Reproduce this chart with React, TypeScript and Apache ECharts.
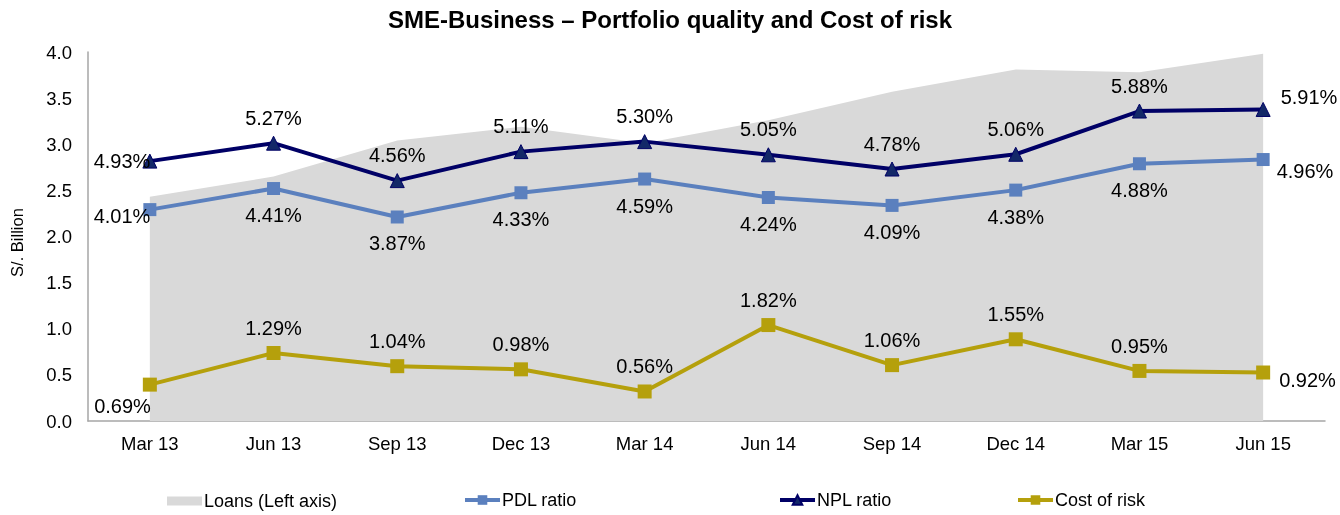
import React, { useEffect, useRef } from "react";
import * as echarts from "echarts";

const categories = ["Mar 13", "Jun 13", "Sep 13", "Dec 13", "Mar 14", "Jun 14", "Sep 14", "Dec 14", "Mar 15", "Jun 15"];
const loans = [2.43, 2.65, 3.04, 3.19, 3.01, 3.26, 3.57, 3.81, 3.78, 3.98];
const pdlRatio = [4.01, 4.41, 3.87, 4.33, 4.59, 4.24, 4.09, 4.38, 4.88, 4.96];
const nplRatio = [4.93, 5.27, 4.56, 5.11, 5.3, 5.05, 4.78, 5.06, 5.88, 5.91];
const costOfRisk = [0.69, 1.29, 1.04, 0.98, 0.56, 1.82, 1.06, 1.55, 0.95, 0.92];
const leftTicks = { min: 0, max: 4, interval: 0.5 };
const rightAxisMax = 7;

const FONT = "'Liberation Sans', Arial, Helvetica, sans-serif";

function withEdgeLabels(values: number[], first: any, last: any) {
  return values.map((v, i) => {
    if (i === 0) return { value: v, label: first };
    if (i === values.length - 1) return { value: v, label: last };
    return { value: v };
  });
}

export default function App() {
  const ref = useRef<HTMLDivElement>(null);
  useEffect(() => {
    if (!ref.current) return;
    const chart = echarts.init(ref.current, null, { renderer: "svg" });
    const pct = (p: any) => Number(p.value).toFixed(2) + "%";
    const labelBase = { show: true, formatter: pct, color: "#000", fontSize: 20, fontFamily: FONT };
    const legendBase = {
      top: 491,
      padding: 0,
      itemWidth: 35,
      itemHeight: 12,
      itemGap: 5,
      lineStyle: { width: 4 },
      textStyle: { fontSize: 18, color: "#000", fontFamily: FONT, padding: [0, 0, 0, -3] },
    };
    chart.setOption({
      animation: false,
      title: {
        text: "SME-Business – Portfolio quality and Cost of risk",
        left: "center",
        top: 2,
        textStyle: { fontSize: 24, fontWeight: "bold", color: "#000", fontFamily: FONT },
      },
      grid: { left: 87, right: 15, top: 52, bottom: 94, containLabel: false },
      legend: [
        { ...legendBase, left: 167, itemHeight: 9, top: 492, data: [{ name: "Loans (Left axis)", icon: "rect" }] },
        { ...legendBase, left: 463, data: ["PDL ratio"] },
        { ...legendBase, left: 778, data: ["NPL ratio"] },
        { ...legendBase, left: 1016, data: ["Cost of risk"] },
      ],
      xAxis: {
        type: "category",
        data: categories,
        boundaryGap: true,
        axisLine: { lineStyle: { color: "#A6A6A6", width: 1.5 } },
        axisTick: { show: false },
        axisLabel: { color: "#000", fontSize: 18.5, fontFamily: FONT, margin: 13 },
      },
      yAxis: [
        {
          type: "value",
          ...leftTicks,
          name: "S/. Billion",
          nameLocation: "middle",
          nameGap: 63,
          nameTextStyle: { fontSize: 16.5, color: "#000", fontFamily: FONT, padding: [0, 12, 0, 0] },
          axisLine: { show: true, lineStyle: { color: "#A6A6A6", width: 1.5 } },
          axisTick: { show: false },
          splitLine: { show: false },
          axisLabel: {
            color: "#000",
            fontSize: 18.5,
            fontFamily: FONT,
            margin: 16,
            formatter: (v: number) => v.toFixed(1),
          },
        },
        {
          type: "value",
          min: 0,
          max: rightAxisMax,
          show: false,
          splitLine: { show: false },
        },
      ],
      series: [
        {
          name: "Loans (Left axis)",
          type: "line",
          yAxisIndex: 0,
          data: loans,
          symbol: "none",
          lineStyle: { width: 0, color: "#D9D9D9" },
          itemStyle: { color: "#D9D9D9" },
          areaStyle: { color: "#D9D9D9", opacity: 1 },
          z: 1,
        },
        {
          name: "PDL ratio",
          type: "line",
          yAxisIndex: 1,
          data: withEdgeLabels(
            pdlRatio,
            { position: "left", distance: 0, offset: [7, 6] },
            { position: "right", distance: 7, offset: [0, 11] }
          ),
          symbol: "rect",
          symbolSize: 13,
          lineStyle: { width: 4, color: "#5B80BE" },
          itemStyle: { color: "#5B80BE" },
          label: { ...labelBase, position: "bottom", distance: 10 },
          z: 3,
        },
        {
          name: "NPL ratio",
          type: "line",
          yAxisIndex: 1,
          data: withEdgeLabels(
            nplRatio,
            { position: "left", distance: 0, offset: [8, 0] },
            { position: "right", distance: 10, offset: [0, -12] }
          ),
          symbol: "triangle",
          symbolSize: 14,
          lineStyle: { width: 4, color: "#000066" },
          itemStyle: { color: "#132868", borderColor: "#000066", borderWidth: 1 },
          label: { ...labelBase, position: "top", distance: 8 },
          z: 4,
        },
        {
          name: "Cost of risk",
          type: "line",
          yAxisIndex: 1,
          data: withEdgeLabels(
            costOfRisk,
            { position: "left", distance: 0, offset: [8, 21] },
            { position: "right", distance: 9, offset: [0, 7] }
          ),
          symbol: "rect",
          symbolSize: 14,
          lineStyle: { width: 4, color: "#B5A00C" },
          itemStyle: { color: "#B5A00C" },
          label: { ...labelBase, position: "top", distance: 8 },
          z: 3,
        },
      ],
    });
    return () => chart.dispose();
  }, []);
  return (
    <div
      ref={ref}
      style={{ position: "fixed", left: 0, top: 0, width: 1340, height: 515 }}
    />
  );
}
